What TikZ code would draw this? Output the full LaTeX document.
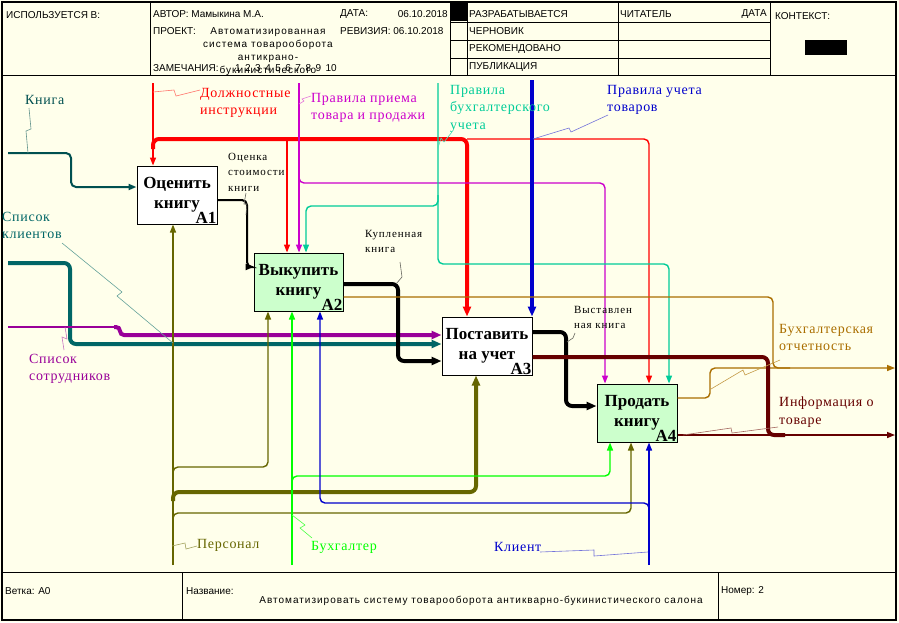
\documentclass[tikz,border=0pt]{standalone}
\usepackage{fontspec}
\setmainfont{Liberation Serif}
\newfontfamily\hdr{Liberation Sans}
\newfontfamily\hdrsp[LetterSpace=10]{Liberation Sans}
\newfontfamily\lbl[LetterSpace=5]{Liberation Serif}
\newfontfamily\sml[LetterSpace=8]{Liberation Serif}
\usetikzlibrary{arrows.meta}
\definecolor{bg}{RGB}{255,255,235}
\definecolor{cKniga}{RGB}{0,80,80}
\definecolor{cKlient}{RGB}{0,102,102}
\definecolor{cRed}{RGB}{255,0,0}
\definecolor{cMag}{RGB}{204,0,204}
\definecolor{cPurp}{RGB}{153,0,153}
\definecolor{cTeal}{RGB}{0,204,153}
\definecolor{cBlue}{RGB}{0,0,204}
\definecolor{cOlive}{RGB}{102,102,0}
\definecolor{cGreen}{RGB}{0,255,0}
\definecolor{cBrown}{RGB}{170,110,0}
\definecolor{cDRed}{RGB}{102,0,0}
\definecolor{boxgreen}{RGB}{204,255,204}
\begin{document}
\begin{tikzpicture}[x=1pt,y=-1pt,
  arr/.style={-{Triangle[length=8pt,width=6pt]}},
  arrH/.style={-{Triangle[length=10pt,width=8pt]}},
  fine/.style={line width=1.4pt, rounded corners=5pt},
  medium/.style={line width=2pt, rounded corners=5pt},
  heavy/.style={line width=4pt, rounded corners=6pt},
  lead/.style={line width=0.6pt},
  box/.style={draw, line width=1pt, minimum width=80pt, minimum height=58pt, inner sep=0pt, align=center, font=\fontsize{17}{20}\selectfont\bfseries},
  num/.style={anchor=south east, inner sep=1pt, font=\fontsize{17}{17}\selectfont\bfseries},
  lab/.style={anchor=north west, align=left, inner sep=0pt, font=\lbl\fontsize{14}{17.5}\selectfont},
  slab/.style={anchor=north west, align=left, inner sep=0pt, font=\sml\fontsize{11}{15.5}\selectfont},
  hd/.style={anchor=west, inner sep=0pt, font=\hdr\fontsize{10}{12}\selectfont},
  frm/.style={line width=1pt}]
\useasboundingbox (0,0) rectangle (899,622);
\fill[bg] (0,0) rectangle (899,622);
% ---------- header ----------
\draw[frm] (2,75) -- (896,75);
\draw[frm] (150,2) -- (150,75);
\draw[frm] (450,2) -- (450,75);
\draw[frm] (467,2) -- (467,75);
\draw[frm] (618,2) -- (618,75);
\draw[frm] (770,2) -- (770,75);
\draw[frm] (450,22) -- (770,22);
\draw[frm] (450,40) -- (770,40);
\draw[frm] (450,58) -- (770,58);
\fill[black] (451,2) rectangle (467,21);
\fill[black] (805,40) rectangle (847,55);
\node[hd] (h1) at (6,15) {ИСПОЛЬЗУЕТСЯ В:};
\node[hd] (h2) at (153,14) {АВТОР: Мамыкина М.А.};
\node[hd] (h3) at (340,14) {ДАТА:};
\node[hd, anchor=east] (h4) at (448,14) {06.10.2018};
\node[hd] (h5) at (153,31) {ПРОЕКТ:};
\node[hd] (h6) at (340,31) {РЕВИЗИЯ: 06.10.2018};
\begin{scope}
\clip (151,22) rectangle (449,74.5);
\node[anchor=north, align=center, inner sep=0pt, font=\hdrsp\fontsize{10}{13}\selectfont] (h7) at (268,27) {Автоматизированная\\система товарооборота\\антикрано-\\букинистического};
\end{scope}
\node[hd] (h8) at (153,68) {ЗАМЕЧАНИЯ:};
\node[hd, anchor=east] (h9) at (337,68) {1\hspace{4.5pt}2\hspace{4.5pt}3\hspace{4.5pt}4\hspace{4.5pt}5\hspace{4.5pt}6\hspace{4.5pt}7\hspace{4.5pt}8\hspace{4.5pt}9\hspace{4.5pt}10};
\node[hd] (s1) at (469,14) {РАЗРАБАТЫВАЕТСЯ};
\node[hd] (s2) at (469,31) {ЧЕРНОВИК};
\node[hd] (s3) at (469,49) {РЕКОМЕНДОВАНО};
\node[hd] (s4) at (469,67) {ПУБЛИКАЦИЯ};
\node[hd] (r1) at (620,14) {ЧИТАТЕЛЬ};
\node[hd, anchor=east] (r2) at (767,14) {ДАТА};
\node[hd] (c1) at (775,16) {КОНТЕКСТ:};
% ---------- footer ----------
\draw[frm] (2,572) -- (896,572);
\draw[frm] (182,572) -- (182,620);
\draw[frm] (718,572) -- (718,620);
\node[hd] (f1) at (5,591) {Ветка: A0};
\node[hd] (f2) at (186,591) {Название:};
\node[anchor=center, inner sep=0pt, font=\hdrsp\fontsize{10}{12}\selectfont] (f3) at (481,601) {Автоматизировать систему товарооборота антикварно-букинистического салона};
\node[hd] (f4) at (721,591) {Номер: 2};
% outer frame
\draw[line width=1.5pt] (2,2) rectangle (896,620);
% ---------- boxes ----------
\node[box, fill=white] (A1) at (177,195) {Оценить\\книгу};
\node[box, fill=boxgreen, minimum width=89pt] (A2) at (298.5,282) {Выкупить\\книгу};
\node[box, fill=white, minimum width=90pt] (A3) at (487,346) {Поставить\\на учет};
\node[box, fill=boxgreen] (A4) at (637,413) {Продать\\книгу};
\node[num] (n1) at (A1.south east) {A1};
\node[num] (n2) at (A2.south east) {A2};
\node[num] (n3) at (A3.south east) {A3};
\node[num] (n4) at (A4.south east) {A4};
% ---------- free ends ----------
\coordinate (inKniga) at (8,153);
\coordinate (inKlient) at (8,263);
\coordinate (inSotr) at (8,327);
\coordinate (ctDI) at (153,83);
\coordinate (ctPP) at (299,83);
\coordinate (ctBU) at (438,83);
\coordinate (ctUT) at (532,80);
\coordinate (mPers) at (173,565);
\coordinate (mBuh) at (292,565);
\coordinate (mKl) at (649,565);
\coordinate (outBO) at (895,368);
\coordinate (outIT) at (895,435);
% ---------- inputs ----------
\draw[medium, cKniga, arr] (inKniga) -- (71,153) -- (71,187) -- (A1.west |- 0,187);
\draw[heavy, cKlient, arrH] (inKlient) -- (70,263) -- (70,344) -- (A3.west |- 0,344);
\draw[fine, cPurp] (inSotr) -- (120,327);
\draw[heavy, cPurp, arrH, rounded corners=4pt] (114,327) -- (120,327) -- (120,335) -- (A3.west |- 0,335);
% ---------- controls ----------
\draw[fine, cRed] (ctDI) -- (153,139);
\draw[heavy, cRed] (153,149) -- (153,139) -- (467,139) -- (467,300);
\draw[line width=4pt, cRed, arrH] (467,295) -- (A3.north -| 467,0);
\draw[fine, cRed, arr] (153,139) -- (A1.north -| 153,0);
\draw[fine, cRed, arr] (287,139) -- (A2.north -| 287,0);
\draw[fine, cRed, arr] (467,139) -- (649,139) -- (A4.north -| 649,0);
\draw[fine, cMag, arr] (ctPP) -- (A2.north -| 299,0);
\draw[fine, cMag, arr] (299,172) -- (299,183) -- (605,183) -- (A4.north -| 605,0);
\draw[fine, cTeal, arr] (ctBU) -- (438,206) -- (306,206) -- (A2.north -| 306,0);
\draw[fine, cTeal, arr] (438,195) -- (438,264) -- (669,264) -- (A4.north -| 669,0);
\draw[line width=4pt, cBlue, arrH] (ctUT) -- (A3.north -| 532,0);
% ---------- inner flows ----------
\draw[medium, black, arr] (A1.east |- 0,200) -- (247,200) -- (247,267) -- (A2.west |- 0,267);
\draw[heavy, black, arrH] (A2.east |- 0,284) -- (398,284) -- (398,361) -- (A3.west |- 0,361);
\draw[heavy, black, arrH] (A3.east |- 0,332) -- (566,332) -- (566,406) -- (A4.west |- 0,406);
% ---------- outputs ----------
\draw[fine, cBrown, arr] (A2.east |- 0,297) -- (773,297) -- (773,368) -- (outBO);
\draw[fine, cBrown] (A4.east |- 0,398) -- (710,398) -- (710,368) -- (790,368);
\draw[heavy, cDRed] (A3.east |- 0,357) -- (768,357) -- (768,435) -- (785,435);
\draw[fine, cDRed, arr] (A4.east |- 0,435) -- (outIT);
% ---------- mechanisms ----------
\draw[fine, cOlive, arr] (mPers) -- (A1.south -| 173,0);
\draw[fine, cOlive, arr] (173,476) -- (173,467) -- (268,467) -- (A2.south -| 268,0);
\draw[heavy, cOlive, arrH] (173,501) -- (173,492) -- (476,492) -- (A3.south -| 476,0);
\draw[fine, cOlive, arr] (173,522) -- (173,513) -- (631,513) -- (A4.south -| 631,0);
\draw[fine, cGreen, arr] (mBuh) -- (A2.south -| 292,0);
\draw[fine, cGreen, arr] (292,485) -- (292,476) -- (610,476) -- (A4.south -| 610,0);
\draw[fine, cBlue, arr] (mKl) -- (A4.south -| 649,0);
\draw[fine, cBlue, arr] (649,512) -- (649,503) -- (320,503) -- (A2.south -| 320,0);
% ---------- labels ----------
\node[anchor=west, inner sep=0pt, font=\lbl\fontsize{14}{17.5}\selectfont, text=cKniga] (lKn) at (25,100) {Книга};
\node[lab, text=cRed] (lDI) at (200,88) {Должностные\\инструкции};
\node[lab, text=cMag] (lPP) at (311,93) {Правила приема\\товара и продажи};
\node[lab, text=cTeal] (lBU) at (450,85) {Правила\\бухгалтерского\\учета};
\node[lab, text=cBlue] (lUT) at (607,85) {Правила учета\\товаров};
\node[slab] (lOC) at (228,153) {Оценка\\стоимости\\книги};
\node[slab] (lKU) at (365,230) {Купленная\\книга};
\node[slab] (lVY) at (574,306) {Выставлен\\ная книга};
\node[lab, text=cKlient] (lSK) at (2,212) {Список\\клиентов};
\node[lab, text=cPurp] (lSS) at (29,354) {Список\\сотрудников};
\node[lab, text=cBrown] (lBO) at (779,324) {Бухгалтерская\\отчетность};
\node[lab, text=cDRed] (lIT) at (779,397) {Информация о\\товаре};
\node[anchor=west, inner sep=0pt, font=\lbl\fontsize{14}{17.5}\selectfont, text=cOlive] (lPe) at (197,545) {Персонал};
\node[anchor=west, inner sep=0pt, font=\lbl\fontsize{14}{17.5}\selectfont, text=cGreen] (lBh) at (311,547) {Бухгалтер};
\node[anchor=west, inner sep=0pt, font=\lbl\fontsize{14}{17.5}\selectfont, text=cBlue] (lKl) at (494,547) {Клиент};
% ---------- leaders ----------
\draw[lead, cKniga!60!bg] (29,108) -- (31,129) -- (26,131) -- (28,153);
\draw[lead, cRed!55!bg] (153,92) -- (174,90) -- (176,96) -- (200,90);
\draw[lead, cMag!55!bg] (299,104) -- (304,101) -- (302,99) -- (311,96);
\draw[lead, cTeal!70!bg] (438,148) -- (441,138) -- (444,142) -- (452,132);
\draw[lead, cBlue!55!bg] (533,139) -- (569,128) -- (571,132) -- (608,115);
\draw[lead, black!60!bg] (246,215) -- (247,204) -- (244,204) -- (246,193);
\draw[lead, black!60!bg] (396,284) -- (402,277) -- (400,262);
\draw[lead, black!60!bg] (567,342) -- (573,338) -- (575,333);
\draw[lead, cKlient!60!bg] (62,243) -- (122,292) -- (117,296) -- (173,343);
\draw[lead, cPurp!55!bg] (65,327) -- (67,339) -- (62,337) -- (64,350);
\draw[lead, cBrown!70!bg] (711,389) -- (743,370) -- (745,375) -- (780,360);
\draw[lead, cDRed!60!bg] (683,435) -- (731,428) -- (732,433) -- (778,427);
\draw[lead, cOlive!60!bg] (172,546) -- (185,543) -- (186,549) -- (197,546);
\draw[lead, cGreen!70!bg] (292,515) -- (305,525) -- (300,528) -- (312,538);
\draw[lead, cBlue!55!bg] (540,552) -- (594,550) -- (594,556) -- (648,552);
\end{tikzpicture}
\end{document}
